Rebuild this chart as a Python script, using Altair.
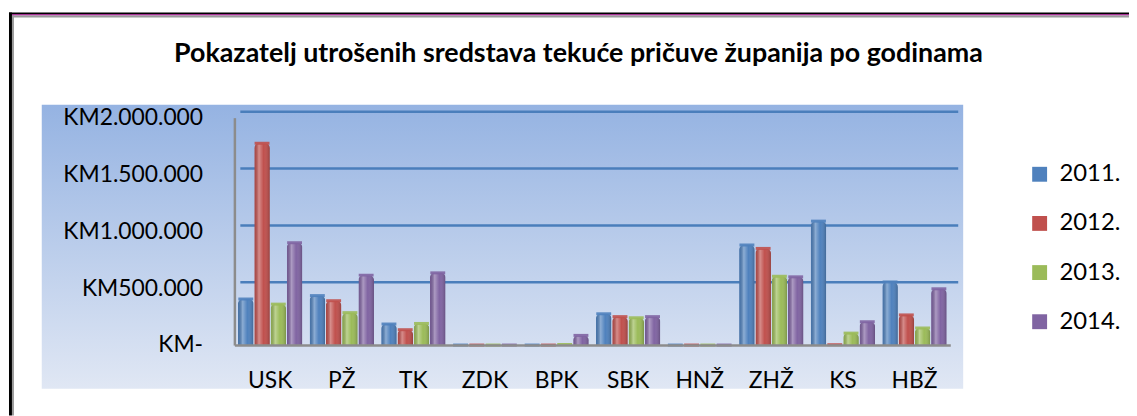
import altair as alt
import pandas as pd

categories = ["USK", "PŽ", "TK", "ZDK", "BPK", "SBK", "HNŽ", "ZHŽ", "KS", "HBŽ"]
years = ["2011.", "2012.", "2013.", "2014."]
v2011 = [405000, 435000, 185000, 0, 0, 275000, 0, 880000, 1090000, 555000]
v2012 = [1775000, 390000, 135000, 0, 0, 250000, 0, 850000, 3000, 265000]
v2013 = [360000, 285000, 190000, 0, 5000, 240000, 0, 605000, 105000, 150000]
v2014 = [900000, 615000, 635000, 0, 85000, 250000, 0, 600000, 205000, 495000]
colors = ["#4f81bd", "#c0504d", "#9bbb59", "#8064a2"]
grid_values = [500000, 1000000, 1500000, 2000000]
tick_values = [0, 500000, 1000000, 1500000, 2000000]
title_text = "Pokazatelj utrošenih sredstava tekuće pričuve županija po godinama"

rows = []
for yr, vals in zip(years, [v2011, v2012, v2013, v2014]):
    for c, v in zip(categories, vals):
        rows.append({"cat": c, "year": yr, "value": v})
df = pd.DataFrame(rows)
grid_df = pd.DataFrame({"g": grid_values})

W, H = 721, 229
FONT = "Lato"

x_enc = alt.X("cat:N", sort=categories, title=None,
              scale=alt.Scale(paddingInner=0.1, paddingOuter=0.05),
              axis=alt.Axis(labelAngle=0, labelFontSize=23, labelFont=FONT, labelColor="#000000",
                            ticks=False, labelPadding=25, domain=True, domainColor="#8c8c8c",
                            domainWidth=2.5, zindex=1, grid=False))
xo_enc = alt.XOffset("year:N", sort=years, scale=alt.Scale(paddingInner=0.04))
y_scale = alt.Scale(domain=[0, 2000000], nice=False)

background = alt.Chart(pd.DataFrame({"a": [0]})).mark_rect(
    color=alt.LinearGradient(
        gradient="linear", x1=0, x2=0, y1=0, y2=1,
        stops=[alt.GradientStop(color="#95b3e2", offset=0),
               alt.GradientStop(color="#e0e7f4", offset=1)])
).encode(x=alt.value(-194), x2=alt.value(734), y=alt.value(-13), y2=alt.value(273))

frame_left = alt.Chart(pd.DataFrame({"a": [0]})).mark_rule(color="#000000", strokeWidth=3).encode(
    x=alt.value(-225.5), y=alt.value(-106), y2=alt.value(300))
frame_left2 = alt.Chart(pd.DataFrame({"a": [0]})).mark_rule(color="#9a9a9a", strokeWidth=2).encode(
    x=alt.value(-223), y=alt.value(-103), y2=alt.value(300))
frame_top = alt.Chart(pd.DataFrame({"a": [0]})).mark_rule(color="#000000", strokeWidth=2).encode(
    x=alt.value(-227), x2=alt.value(905), y=alt.value(-105))
frame_top2 = alt.Chart(pd.DataFrame({"a": [0]})).mark_rule(color="#b0169a", strokeWidth=1.2).encode(
    x=alt.value(-224), x2=alt.value(905), y=alt.value(-103.5))
frame_top3 = alt.Chart(pd.DataFrame({"a": [0]})).mark_rule(color="#9a9a9a", strokeWidth=2).encode(
    x=alt.value(-224), x2=alt.value(905), y=alt.value(-102))

grid = alt.Chart(grid_df).mark_rule(color="#4a7ebb", strokeWidth=2.5, yOffset=-6).encode(
    y=alt.Y("g:Q", scale=y_scale), x=alt.value(6), x2=alt.value(729))

bars = alt.Chart(df).mark_bar(cornerRadiusTopLeft=5, cornerRadiusTopRight=5).encode(
    x=x_enc, xOffset=xo_enc,
    y=alt.Y("value:Q", scale=y_scale, title=None,
            axis=alt.Axis(values=tick_values, grid=False, ticks=False, labelFontSize=23,
                          labelFont=FONT, labelColor="#000000", labelPadding=32,
                          domain=True, domainColor="#8c8c8c", domainWidth=2.5, zindex=1,
                          labelExpr="datum.value == 0 ? 'KM-' : 'KM' + replace(replace(format(datum.value, ','), ',', '.'), ',', '.')")),
    color=alt.Color("year:N", sort=years, scale=alt.Scale(domain=years, range=colors),
                    legend=alt.Legend(title=None, orient="none", legendX=799, legendY=45,
                                      symbolType="square", symbolSize=225, symbolStrokeWidth=0,
                                      labelFontSize=24, labelFont=FONT, labelColor="#000000",
                                      rowPadding=25.5, labelOffset=8, padding=0))
)

shade = alt.Chart(df).mark_bar(
    cornerRadiusTopLeft=5, cornerRadiusTopRight=5,
    color=alt.LinearGradient(
        gradient="linear", x1=0, x2=1, y1=0, y2=0,
        stops=[alt.GradientStop(color="rgba(0,0,0,0.10)", offset=0),
               alt.GradientStop(color="rgba(255,255,255,0.35)", offset=0.3),
               alt.GradientStop(color="rgba(255,255,255,0.0)", offset=0.6),
               alt.GradientStop(color="rgba(0,0,0,0.22)", offset=1)])
).encode(x=alt.X("cat:N", sort=categories), xOffset=alt.XOffset("year:N", sort=years),
         y=alt.Y("value:Q", scale=y_scale))

caps = alt.Chart(df).mark_tick(thickness=3, size=15, opacity=0.9).encode(
    x=alt.X("cat:N", sort=categories), xOffset=alt.XOffset("year:N", sort=years),
    y=alt.Y("value:Q", scale=y_scale),
    color=alt.Color("year:N", sort=years, legend=None))

chart = alt.layer(
    background, frame_left, frame_left2, frame_top, frame_top2, frame_top3,
    grid, bars, shade, caps
).properties(
    width=W, height=H,
    autosize=alt.AutoSizeParams(type="none"),
    padding={"left": 228, "top": 109, "right": 180, "bottom": 70},
    title=alt.Title(title_text, fontSize=27, font=FONT, fontWeight="bold", color="#000000",
                    anchor="middle", dx=-14, dy=57, offset=0)
).configure_view(stroke=None).configure(background="#ffffff")

chart.save("out.html", embed_options={"renderer": "svg", "actions": False})
